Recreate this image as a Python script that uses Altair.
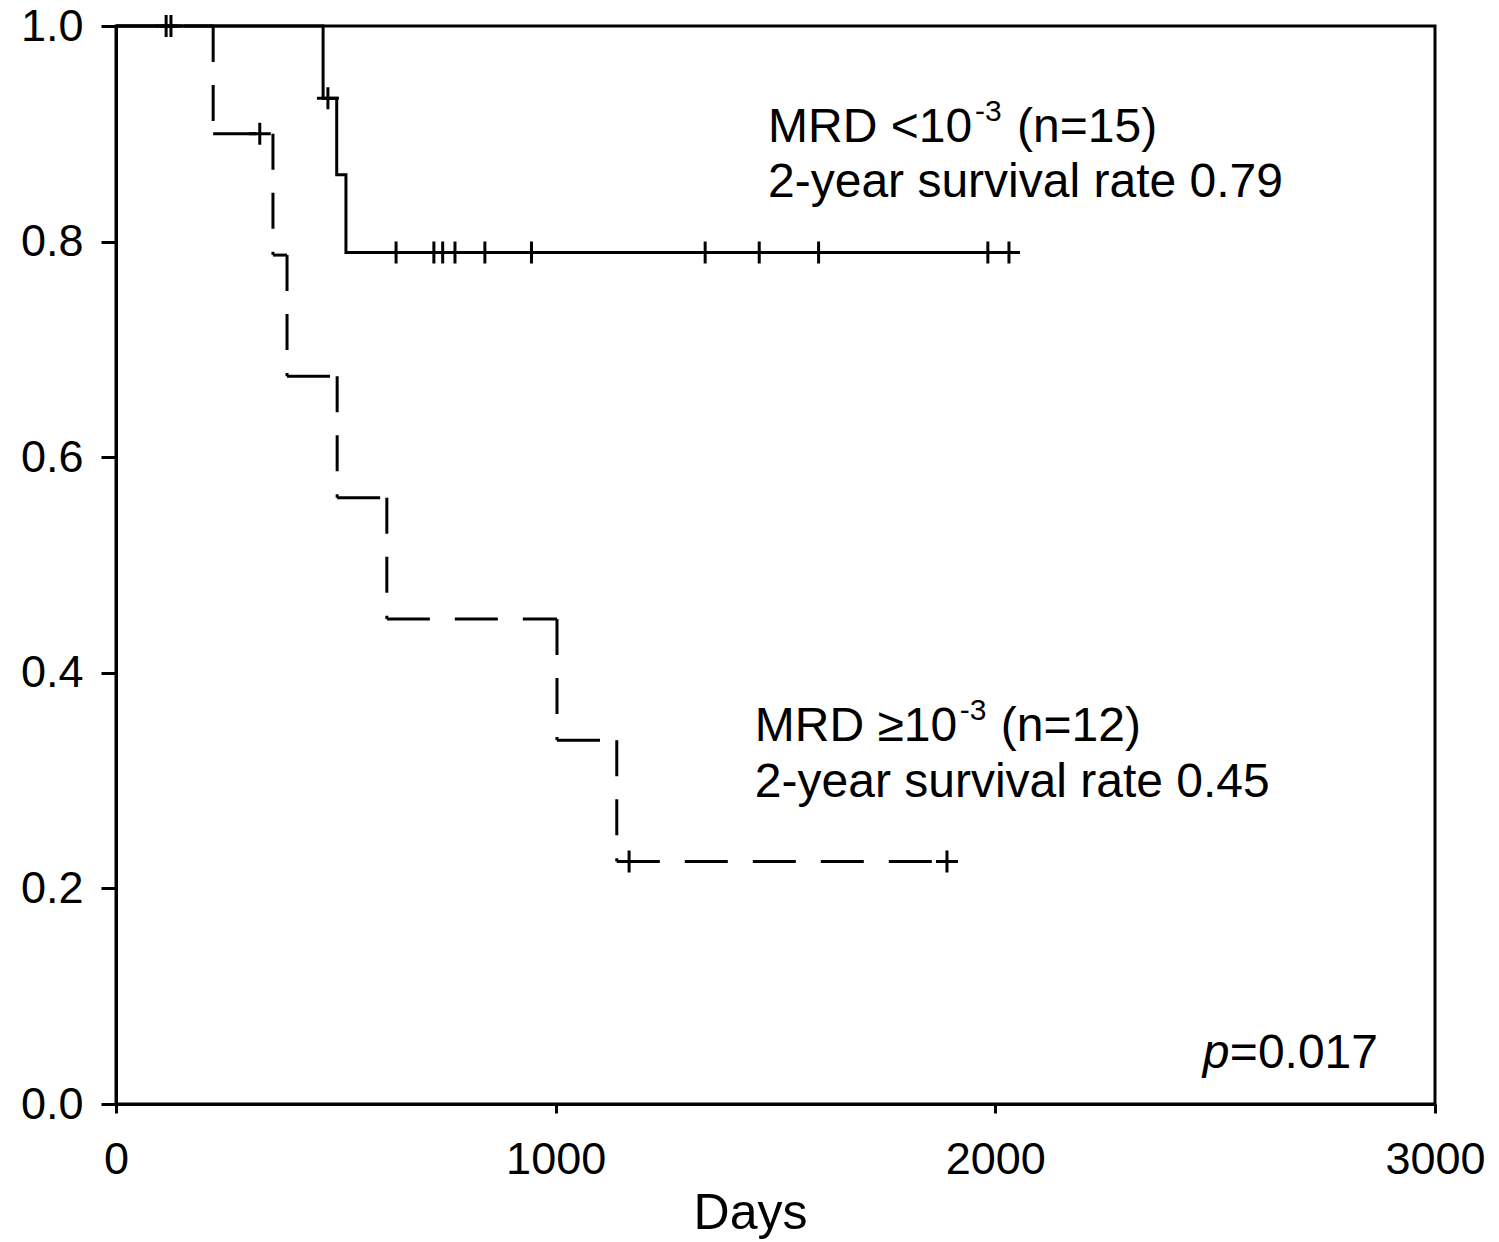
import altair as alt
import pandas as pd

# ---- data ----
solid_days = [0, 471, 502, 523, 2031]
solid_surv = [1.0, 0.933, 0.862, 0.79, 0.79]
solid_censor_days = [482, 637, 723, 743, 771, 839, 945, 1340, 1463, 1598, 1983, 2031]
solid_censor_surv = [0.933, 0.79, 0.79, 0.79, 0.79, 0.79, 0.79, 0.79, 0.79, 0.79, 0.79, 0.79]

dashed_days = [0, 221, 357, 389, 503, 616, 1003, 1139, 1890]
dashed_surv = [1.0, 0.90, 0.7875, 0.675, 0.5625, 0.45, 0.3375, 0.225, 0.225]
dashed_censor_days = [114, 125, 327, 1167, 1890]
dashed_censor_surv = [1.0, 1.0, 0.90, 0.225, 0.225]

x_ticks = [0, 1000, 2000, 3000]
y_ticks = [0.0, 0.2, 0.4, 0.6, 0.8, 1.0]

FONT = "Liberation Sans"

solid = pd.DataFrame({"day": solid_days, "surv": solid_surv})
censors = pd.DataFrame({
    "day": solid_censor_days + dashed_censor_days,
    "surv": solid_censor_surv + dashed_censor_surv,
})

# dashed step curve split into its horizontal and vertical pieces
h_seg = pd.DataFrame({
    "day": dashed_days[:-1],
    "day2": dashed_days[1:],
    "surv": dashed_surv[:-1],
})
v_rows = [
    {"day": dashed_days[i], "surv": dashed_surv[i - 1], "surv2": dashed_surv[i]}
    for i in range(1, len(dashed_days))
    if dashed_surv[i] != dashed_surv[i - 1]
]
v_seg = pd.DataFrame(v_rows)

x_axis = alt.Axis(values=x_ticks, format="d", tickSize=9, labelPadding=24,
                  labelFontSize=45, labelFlush=False, title="Days",
                  titleFontSize=50, titleFontWeight="normal", titlePadding=6,
                  titleX=634)
y_axis = alt.Axis(values=y_ticks, format=".1f", tickSize=15, labelPadding=18,
                  labelFontSize=45, title="")

X = alt.X("day:Q", scale=alt.Scale(domain=[0, 3000], nice=False), axis=x_axis)
Y = alt.Y("surv:Q", scale=alt.Scale(domain=[0, 1], nice=False), axis=y_axis)

solid_line = alt.Chart(solid).mark_line(
    interpolate="step-after", color="black", strokeWidth=3
).encode(x=X, y=Y)

dashed_h = alt.Chart(h_seg).mark_rule(
    color="black", strokeWidth=3, strokeDash=[43, 25]
).encode(x=X, x2="day2:Q", y=Y)

dashed_v = alt.Chart(v_seg).mark_rule(
    color="black", strokeWidth=3, strokeDash=[36, 23]
).encode(x=X, y=Y, y2="surv2:Q")

censor_marks = alt.Chart(censors).mark_point(
    shape="M-1,0L1,0M0,-1L0,1", size=484, filled=False,
    color="black", strokeWidth=3, opacity=1
).encode(x=X, y=Y)

# annotations: anchor positions in data units
ann_a1 = pd.DataFrame({"day": [1483], "surv": [0.892]})
ann_a2 = pd.DataFrame({"day": [1483], "surv": [0.841]})
ann_b1 = pd.DataFrame({"day": [1453], "surv": [0.337]})
ann_b2 = pd.DataFrame({"day": [1453], "surv": [0.285]})
ann_p = pd.DataFrame({"day": [2472], "surv": [0.033]})

FS = 48
SUP = 30


def txt(df, text, dx=0, dy=0, size=FS, style="normal"):
    return alt.Chart(df).mark_text(
        text=text, align="left", baseline="alphabetic", dx=dx, dy=dy,
        fontSize=size, font=FONT, fontStyle=style, color="black"
    ).encode(x=X, y=Y)


texts = [
    txt(ann_a1, "MRD <10"),
    txt(ann_a1, "-3", dx=207, dy=-21, size=SUP),
    txt(ann_a1, "(n=15)", dx=249),
    txt(ann_a2, "2-year survival rate 0.79"),
    txt(ann_b1, "MRD \u226510"),
    txt(ann_b1, "-3", dx=205, dy=-21, size=SUP),
    txt(ann_b1, "(n=12)", dx=246),
    txt(ann_b2, "2-year survival rate 0.45"),
    txt(ann_p, "p", style="italic"),
    txt(ann_p, "=0.017", dx=27),
]

chart = alt.layer(solid_line, dashed_h, dashed_v, censor_marks, *texts).properties(
    width=1319, height=1078,
    padding={"left": 108, "top": 18, "right": 54, "bottom": 136},
    autosize=alt.AutoSizeParams(type="none"),
).configure_view(
    stroke="black", strokeWidth=3
).configure_axis(
    domainColor="black", domainWidth=3, tickColor="black", tickWidth=3,
    labelColor="black", titleColor="black", grid=False,
    labelFont=FONT, titleFont=FONT
)

chart.save("out.html", embed_options={"renderer": "svg", "actions": False})
